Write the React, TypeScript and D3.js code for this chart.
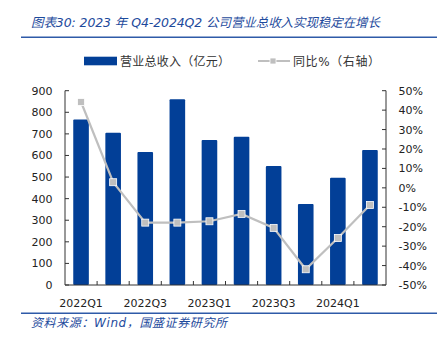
import React from "react";
import * as d3 from "d3";

const categories = ["2022Q1","2022Q2","2022Q3","2022Q4","2023Q1","2023Q2","2023Q3","2023Q4","2024Q1","2024Q2"];
const revenue = [767, 705, 616, 860, 672, 687, 551, 375, 497, 625];
const yoy = [44.2, 2.9, -17.9, -17.9, -17.2, -13.4, -20.6, -41.9, -25.8, -8.8];
const leftTicks = [0,100,200,300,400,500,600,700,800,900];
const rightTicks = [-50,-40,-30,-20,-10,0,10,20,30,40,50];
const xLabelShown = ["2022Q1","2022Q3","2023Q1","2023Q3","2024Q1"];

const BLUE = "#023F97";
const GRAY = "#BFBFBF";
const TITLE = "#1D4A9C";
const FONT = "'DejaVu Sans', 'Noto Sans CJK SC', sans-serif";

export default function App() {
  const W = 447, H = 338;
  const left = 65, right = 386, top = 90.7, bottom = 285;
  const xb = d3.scaleBand<string>().domain(categories).range([left, right]);
  const yL = d3.scaleLinear().domain([0, 900]).range([bottom, top]);
  const yR = d3.scaleLinear().domain([-50, 50]).range([bottom, top]);
  const line = d3.line<number>().x((_, i) => (xb(categories[i]) as number) + xb.bandwidth() / 2).y(d => yR(d));
  const bw = 15.6;
  return (
    <svg width={W} height={H} style={{ position: "absolute", left: 0, top: 0, background: "#fff" }} fontFamily={FONT}>
      <text x={31} y={27} fontSize={12.5} fontStyle="italic" fill={TITLE} textLength={349} lengthAdjust="spacing">图表30:  2023 年 Q4-2024Q2 公司营业总收入实现稳定在增长</text>
      <line x1={21} x2={437} y1={37.3} y2={37.3} stroke="#2E5AA8" strokeWidth={1.5} />
      {/* legend */}
      <rect x={84} y={56.7} width={33} height={8.6} fill={BLUE} />
      <text x={120} y={65.5} fontSize={12} fill="#333" textLength={110} lengthAdjust="spacing">营业总收入（亿元）</text>
      <line x1={258} x2={290} y1={61} y2={61} stroke={GRAY} strokeWidth={2} />
      <rect x={270} y={58} width={6} height={6} fill={GRAY} stroke="#fff" strokeWidth={0.8} />
      <text x={293} y={65.5} fontSize={12} fill="#333" textLength={87} lengthAdjust="spacing">同比%（右轴）</text>
      {/* bars */}
      {categories.map((c, i) => {
        const cx = (xb(c) as number) + xb.bandwidth() / 2;
        return <rect key={c} x={cx - bw / 2} y={yL(revenue[i])} width={bw} height={bottom - yL(revenue[i])} fill={BLUE} rx={1} />;
      })}
      {/* line */}
      <path d={line(yoy) as string} fill="none" stroke={GRAY} strokeWidth={2.2} />
      {yoy.map((v, i) => {
        const cx = (xb(categories[i]) as number) + xb.bandwidth() / 2;
        return <rect key={i} x={cx - 3.5} y={yR(v) - 3.5} width={7} height={7} fill={GRAY} stroke="#fff" strokeWidth={0.8} />;
      })}
      {/* axes */}
      <line x1={left} x2={left} y1={top} y2={bottom} stroke="#333" strokeWidth={1} />
      <line x1={right} x2={right} y1={top} y2={bottom} stroke="#333" strokeWidth={1} />
      <line x1={left} x2={right} y1={bottom} y2={bottom} stroke="#333" strokeWidth={1} />
      {leftTicks.map(t => (
        <g key={"l" + t}>
          <line x1={left} x2={left + 4} y1={yL(t)} y2={yL(t)} stroke="#333" />
          <text x={52.5} y={yL(t) + 4} fontSize={11} textAnchor="end" fill="#222">{t}</text>
        </g>
      ))}
      {rightTicks.map(t => (
        <g key={"r" + t}>
          <line x1={right - 4} x2={right} y1={yR(t)} y2={yR(t)} stroke="#333" />
          <text x={398.5} y={yR(t) + 4} fontSize={11} textAnchor="start" fill="#222">{t}%</text>
        </g>
      ))}
      {categories.slice(1).map(c => (
        <line key={"t" + c} x1={xb(c) as number} x2={xb(c) as number} y1={bottom} y2={bottom - 4} stroke="#333" />
      ))}
      {categories.map(c => xLabelShown.includes(c) ? (
        <text key={"x" + c} x={(xb(c) as number) + xb.bandwidth() / 2} y={307} fontSize={11} textAnchor="middle" fill="#222">{c}</text>
      ) : null)}
      <line x1={21} x2={437} y1={313.3} y2={313.3} stroke="#2E5AA8" strokeWidth={1.5} />
      <text x={31} y={327} fontSize={12} fontStyle="italic" fill={TITLE} textLength={196} lengthAdjust="spacing">资料来源：Wind，国盛证券研究所</text>
    </svg>
  );
}
